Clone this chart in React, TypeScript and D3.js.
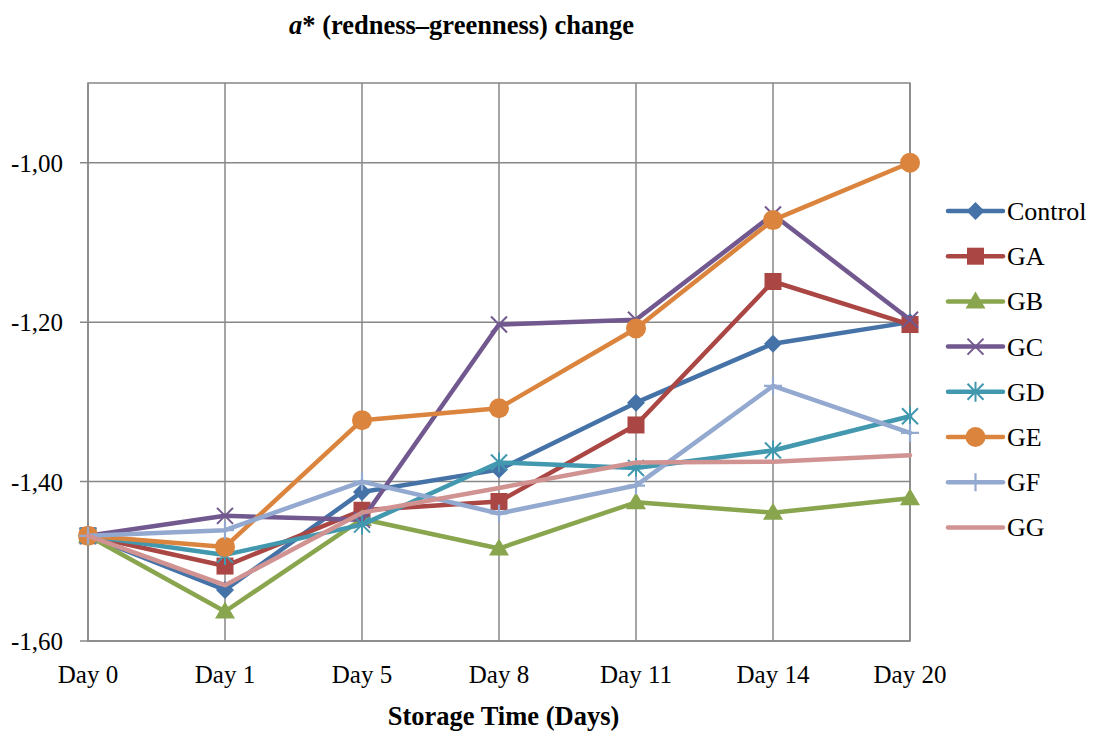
import React from "react";
import * as d3 from "d3";

// Storage days on the category axis
const days = ["Day 0", "Day 1", "Day 5", "Day 8", "Day 11", "Day 14", "Day 20"];

// a* values per treatment
const control = [-1.468, -1.536, -1.413, -1.385, -1.301, -1.227, -1.2];
const ga = [-1.468, -1.506, -1.436, -1.425, -1.329, -1.149, -1.203];
const gb = [-1.468, -1.563, -1.447, -1.484, -1.426, -1.439, -1.421];
const gc = [-1.468, -1.443, -1.448, -1.203, -1.197, -1.065, -1.197];
const gd = [-1.468, -1.492, -1.454, -1.376, -1.383, -1.361, -1.318];
const ge = [-1.468, -1.482, -1.323, -1.308, -1.208, -1.072, -1.0];
const gf = [-1.468, -1.461, -1.4, -1.44, -1.405, -1.28, -1.339];
const gg = [-1.468, -1.53, -1.439, -1.408, -1.376, -1.375, -1.367];

const yTicks = [-1.6, -1.4, -1.2, -1.0];

type Marker = "diamond" | "square" | "triangle" | "x" | "star" | "circle" | "plus" | "none";

const series: { name: string; values: number[]; color: string; marker: Marker }[] = [
  { name: "Control", values: control, color: "#4572A7", marker: "diamond" },
  { name: "GA", values: ga, color: "#AA4643", marker: "square" },
  { name: "GB", values: gb, color: "#89A54E", marker: "triangle" },
  { name: "GC", values: gc, color: "#71588F", marker: "x" },
  { name: "GD", values: gd, color: "#4198AF", marker: "star" },
  { name: "GE", values: ge, color: "#DB843D", marker: "circle" },
  { name: "GF", values: gf, color: "#93A9CF", marker: "plus" },
  { name: "GG", values: gg, color: "#D19392", marker: "none" },
];

const W = 1094;
const H = 731;
const left = 88;
const right = 910;
const top = 83;
const bottom = 641;

const FONT = "'Liberation Serif', 'Times New Roman', serif";

function MarkerShape({ type, x, y, color }: { type: Marker; x: number; y: number; color: string }) {
  switch (type) {
    case "diamond":
      return <path d={`M${x},${y - 9}L${x + 9},${y}L${x},${y + 9}L${x - 9},${y}Z`} fill={color} />;
    case "square":
      return <rect x={x - 8.5} y={y - 8.5} width={17} height={17} fill={color} />;
    case "triangle":
      return <path d={`M${x},${y - 10}L${x + 10},${y + 7}L${x - 10},${y + 7}Z`} fill={color} />;
    case "x":
      return (
        <path
          d={`M${x - 8},${y - 8}L${x + 8},${y + 8}M${x - 8},${y + 8}L${x + 8},${y - 8}`}
          stroke={color}
          strokeWidth={2}
          fill="none"
        />
      );
    case "star":
      return (
        <path
          d={`M${x - 8},${y - 8}L${x + 8},${y + 8}M${x - 8},${y + 8}L${x + 8},${y - 8}M${x},${y - 10}L${x},${y + 10}`}
          stroke={color}
          strokeWidth={2}
          fill="none"
        />
      );
    case "circle":
      return <circle cx={x} cy={y} r={10} fill={color} />;
    case "plus":
      return (
        <path
          d={`M${x - 9},${y}L${x + 9},${y}M${x},${y - 9}L${x},${y + 9}`}
          stroke={color}
          strokeWidth={2.2}
          fill="none"
        />
      );
    default:
      return null;
  }
}

export default function App() {
  const x = d3.scalePoint<string>().domain(days).range([left, right]).padding(0);
  const y = d3.scaleLinear().domain([-1.6, -0.9]).range([bottom, top]);
  const line = d3
    .line<number>()
    .x((_, i) => x(days[i]) as number)
    .y((d) => y(d));
  const fmt = (v: number) => v.toFixed(2).replace(".", ",");

  const legendX = 948;
  const legendY0 = 211;
  const legendStep = 45.2;

  return (
    <svg
      width={W}
      height={H}
      style={{ position: "absolute", left: 0, top: 0, background: "#fff" }}
      fontFamily={FONT}
    >
      <rect width={W} height={H} fill="#fff" />
      {/* gridlines */}
      {yTicks.map((t) => (
        <line key={t} x1={left - 8} x2={right} y1={y(t)} y2={y(t)} stroke="#878787" strokeWidth={1.5} />
      ))}
      {days.map((d) => (
        <line key={d} x1={x(d)} x2={x(d)} y1={top} y2={bottom} stroke="#878787" strokeWidth={1.5} />
      ))}
      <rect x={left} y={top} width={right - left} height={bottom - top} fill="none" stroke="#878787" strokeWidth={1.5} />

      {/* y tick labels */}
      {yTicks.map((t) => (
        <text key={t} x={63} y={y(t) + 9} textAnchor="end" fontSize={25} fill="#000">
          {fmt(t)}
        </text>
      ))}
      {/* x tick labels */}
      {days.map((d) => (
        <text key={d} x={x(d)} y={683} textAnchor="middle" fontSize={25} fill="#000">
          {d}
        </text>
      ))}

      {/* series */}
      {series.map((s) => (
        <g key={s.name}>
          <path d={line(s.values) || ""} fill="none" stroke={s.color} strokeWidth={4.5} strokeLinejoin="round" strokeLinecap="round" />
          {s.values.map((v, i) => (
            <MarkerShape key={i} type={s.marker} x={x(days[i]) as number} y={y(v)} color={s.color} />
          ))}
        </g>
      ))}

      {/* legend */}
      {series.map((s, i) => {
        const ly = legendY0 + i * legendStep;
        return (
          <g key={s.name}>
            <line x1={legendX} x2={legendX + 55} y1={ly} y2={ly} stroke={s.color} strokeWidth={4.5} strokeLinecap="round" />
            <MarkerShape type={s.marker} x={legendX + 27.5} y={ly} color={s.color} />
            <text x={1007} y={ly + 9} fontSize={26} fill="#000">
              {s.name}
            </text>
          </g>
        );
      })}

      {/* titles */}
      <text x={461.5} y={34} textAnchor="middle" fontSize={26.5} fontWeight="bold" fill="#000">
        <tspan fontStyle="italic">a</tspan>* (redness–greenness) change
      </text>
      <text x={503.5} y={725} textAnchor="middle" fontSize={26.5} fontWeight="bold" fill="#000">
        Storage Time (Days)
      </text>
    </svg>
  );
}
